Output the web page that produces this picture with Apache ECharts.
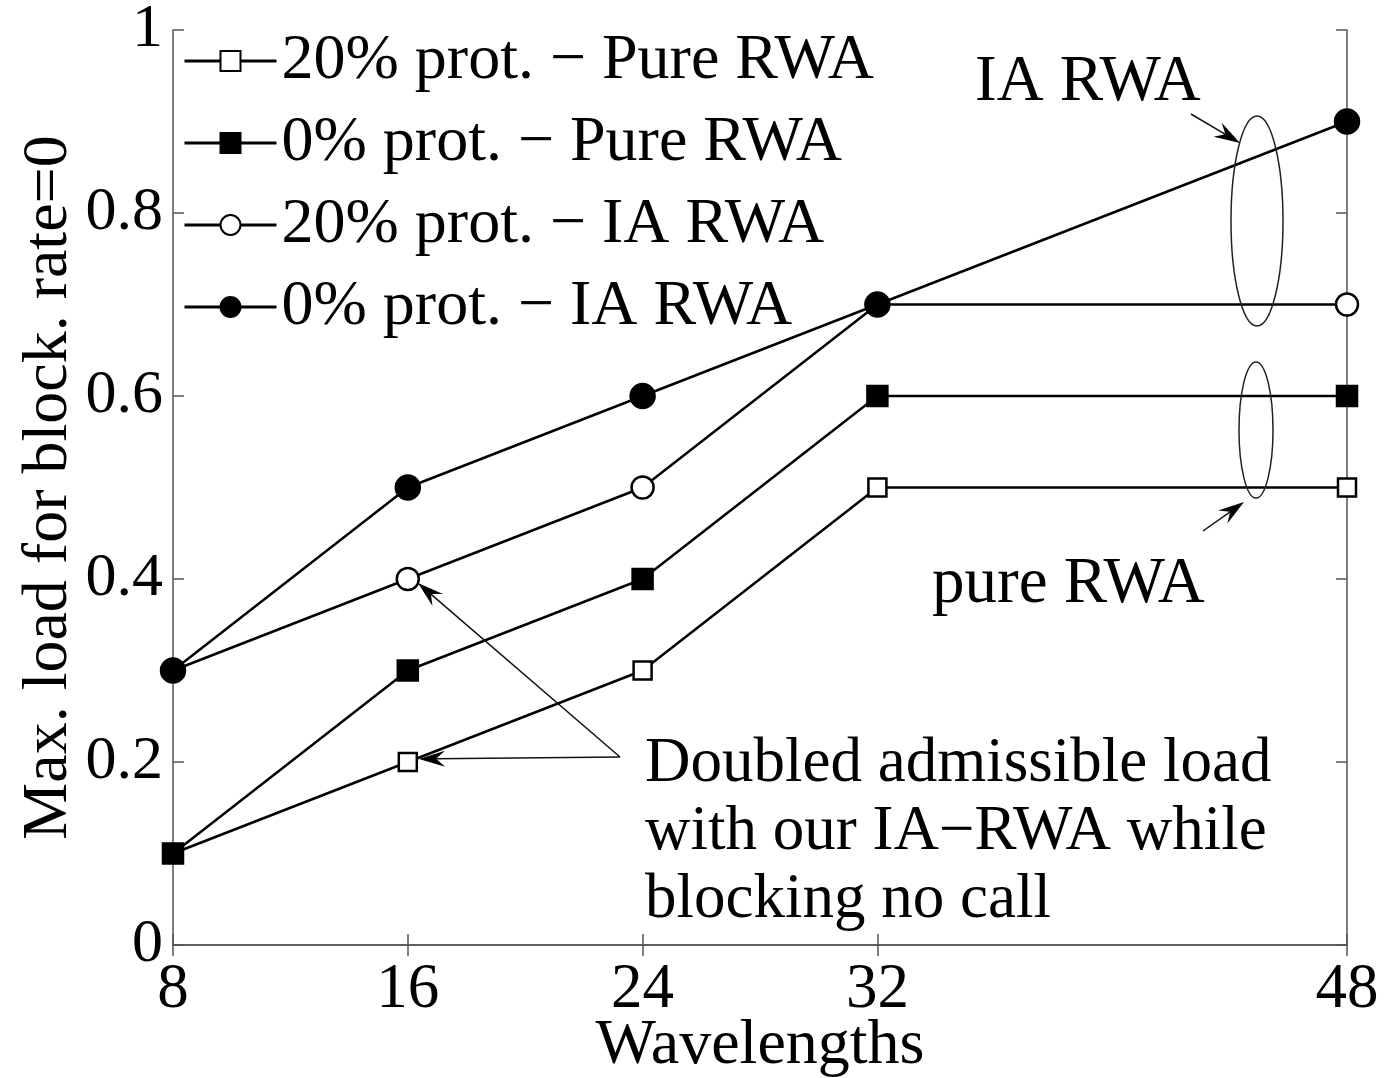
<!DOCTYPE html>
<html>
<head>
<meta charset="utf-8">
<script src="https://cdn.jsdelivr.net/npm/echarts@6/dist/echarts.min.js"></script>
<style>
html,body{margin:0;padding:0;background:#fff;}
#main{width:1384px;height:1078px;}
</style>
</head>
<body>
<div id="main"></div>
<script>
// ---- data ----
const wavelengths = [8, 16, 24, 32, 48];
const pure20 = [0.1, 0.2, 0.3, 0.5, 0.5];
const pure0  = [0.1, 0.3, 0.4, 0.6, 0.6];
const ia20   = [0.3, 0.4, 0.5, 0.7, 0.7];
const ia0    = [0.3, 0.5, 0.6, 0.7, 0.9];
const seriesNames = [
  '20% prot. \u2212 Pure RWA',
  '0% prot. \u2212 Pure RWA',
  '20% prot. \u2212 IA RWA',
  '0% prot. \u2212 IA RWA'
];
const yTicks = [0, 0.2, 0.4, 0.6, 0.8, 1];
const xName = 'Wavelengths';
const yName = 'Max. load for block. rate=0';
const noteIA = 'IA RWA';
const notePure = 'pure RWA';
const noteDoubled = 'Doubled admissible load\nwith our IA\u2212RWA while\nblocking no call';

const FONT = '"Liberation Serif", "Times New Roman", serif';
const AX = '#555';

const chart = echarts.init(document.getElementById('main'), null, {renderer: 'canvas'});

function pairs(vals) { return wavelengths.map((w, i) => [w, vals[i]]); }

function mkSeries(name, vals, symbol, size, filled) {
  return {
    name: name, type: 'line', data: pairs(vals),
    xAxisIndex: 0, yAxisIndex: 0,
    symbol: symbol, symbolSize: size, showSymbol: true,
    lineStyle: {color: '#000', width: 2.5},
    itemStyle: {color: filled ? '#000' : '#fff', borderColor: '#000', borderWidth: 2.5},
    emphasis: {disabled: true},
    animation: false, z: 5
  };
}

function arrow(x1, y1, x2, y2) {
  const dx = x2 - x1, dy = y2 - y1, L = Math.hypot(dx, dy);
  const ux = dx / L, uy = dy / L, px = -uy, py = ux;
  const len = 26, w = 8, notch = 17;
  const bx = x2 - ux * len, by = y2 - uy * len;
  const nx = x2 - ux * notch, ny = y2 - uy * notch;
  return [
    {type: 'line', z: 20, shape: {x1: x1, y1: y1, x2: nx, y2: ny}, style: {stroke: '#111', lineWidth: 1.5}},
    {type: 'polygon', z: 20, shape: {points: [[x2, y2], [bx + px * w, by + py * w], [nx, ny], [bx - px * w, by - py * w]]}, style: {fill: '#000'}}
  ];
}

const graphics = [].concat(
  [
    {type: 'ellipse', z: 20, shape: {cx: 1257, cy: 221, rx: 26, ry: 105}, style: {fill: 'none', stroke: '#222', lineWidth: 1.5}},
    {type: 'ellipse', z: 20, shape: {cx: 1256, cy: 430, rx: 17, ry: 68}, style: {fill: 'none', stroke: '#222', lineWidth: 1.5}},
    {type: 'text', z: 20, x: 975, y: 83, style: {text: noteIA, font: '65px ' + FONT, fill: '#000', textVerticalAlign: 'middle'}},
    {type: 'text', z: 20, x: 932, y: 585, style: {text: notePure, font: '65px ' + FONT, fill: '#000', textVerticalAlign: 'middle'}},
    {type: 'text', z: 20, x: 645, y: 730, style: {text: noteDoubled, font: '63px ' + FONT, fill: '#000', lineHeight: 68, textVerticalAlign: 'top'}}
  ],
  arrow(1191, 114, 1240, 143),
  arrow(1203, 531, 1244, 502),
  arrow(620, 757, 418, 583),
  arrow(620, 757, 419, 759)
);

const option = {
  backgroundColor: '#fff',
  animation: false,
  grid: {left: 173, right: 37, top: 30, bottom: 133, containLabel: false, outerBoundsMode: 'none'},
  legend: {
    data: seriesNames,
    orient: 'vertical', left: 178, top: 24,
    itemWidth: 92, itemHeight: 25, itemGap: 18,
    textStyle: {fontFamily: FONT, fontSize: 64, color: '#000'},
    lineStyle: {width: 3},
    selectedMode: false
  },
  xAxis: [
    {
      type: 'value', min: 8, max: 48, interval: 8, position: 'bottom',
      name: xName, nameLocation: 'middle', nameGap: 69, nameMoveOverlap: false,
      nameTextStyle: {fontFamily: FONT, fontSize: 64, color: '#000'},
      axisLine: {show: true, lineStyle: {color: AX, width: 1.5}},
      axisTick: {show: true, inside: true, length: 11, customValues: wavelengths, lineStyle: {color: AX, width: 1.5}},
      axisLabel: {show: true, customValues: wavelengths, margin: 14, fontFamily: FONT, fontSize: 63, color: '#000'},
      splitLine: {show: false}
    },
    {
      type: 'value', min: 8, max: 48, interval: 8, position: 'top',
      axisLine: {show: true, lineStyle: {color: AX, width: 1.5}},
      axisTick: {show: true, inside: true, length: 11, customValues: wavelengths, lineStyle: {color: AX, width: 1.5}},
      axisLabel: {show: false},
      splitLine: {show: false}
    }
  ],
  yAxis: [
    {
      type: 'value', min: 0, max: 1, interval: 0.2, position: 'left',
      name: yName, nameLocation: 'middle', nameGap: 92, nameRotate: 90, nameMoveOverlap: false,
      nameTextStyle: {fontFamily: FONT, fontSize: 64, color: '#000'},
      axisLine: {show: true, lineStyle: {color: AX, width: 1.5}},
      axisTick: {show: true, inside: true, length: 11, customValues: yTicks, lineStyle: {color: AX, width: 1.5}},
      axisLabel: {show: true, customValues: yTicks, margin: 10, fontFamily: FONT, fontSize: 62, color: '#000'},
      splitLine: {show: false}
    },
    {
      type: 'value', min: 0, max: 1, interval: 0.2, position: 'right',
      axisLine: {show: true, lineStyle: {color: AX, width: 1.5}},
      axisTick: {show: true, inside: true, length: 11, customValues: yTicks, lineStyle: {color: AX, width: 1.5}},
      axisLabel: {show: false},
      splitLine: {show: false}
    }
  ],
  series: [
    mkSeries(seriesNames[0], pure20, 'rect', 18, false),
    mkSeries(seriesNames[1], pure0, 'rect', 20, true),
    mkSeries(seriesNames[2], ia20, 'circle', 22, false),
    mkSeries(seriesNames[3], ia0, 'circle', 24, true)
  ],
  graphic: graphics
};
chart.setOption(option);
</script>
</body>
</html>
